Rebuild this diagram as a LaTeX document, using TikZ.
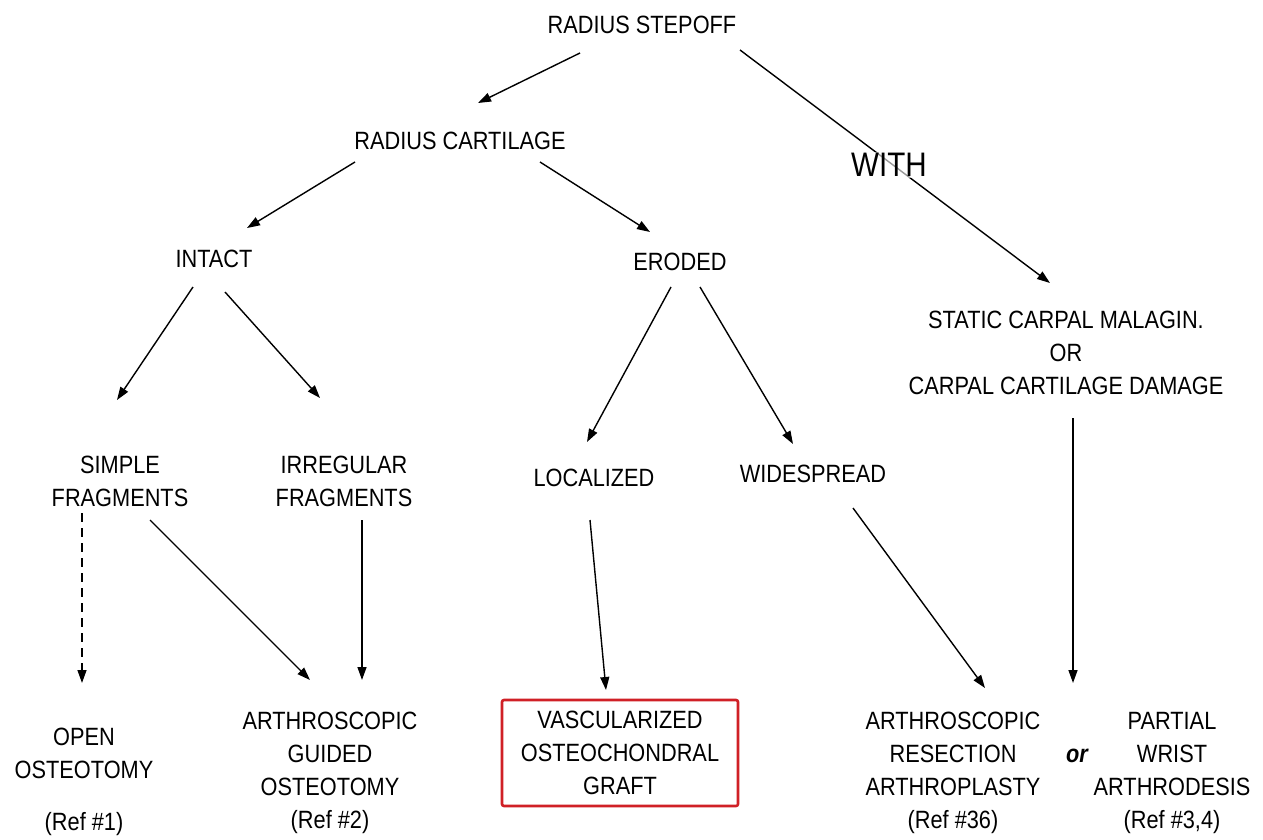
\documentclass[tikz,border=0pt]{standalone}
\usepackage{fontspec}
\setmainfont{Liberation Sans}[FakeStretch=0.87]
\usetikzlibrary{arrows.meta}
\definecolor{boxred}{RGB}{208,32,38}
\begin{document}
\begin{tikzpicture}[x=1pt,y=-1pt,
  every node/.style={align=center,inner sep=0pt,font=\fontsize{25}{33}\selectfont},
  arr/.style={line width=1.4pt,-{Stealth[length=13pt,width=9pt,inset=0pt]}},
  graftbox/.style={draw=boxred,line width=2.6pt,rounded corners=2pt,minimum width=236pt,minimum height=106pt}
  ]
    \useasboundingbox (0,0) rectangle (1263,840);

    \node (stepoff) at (642,25) {RADIUS STEPOFF};
    \node (cartilage) at (460,141) {RADIUS CARTILAGE};
    \node (intact) at (214,259) {INTACT};
    \node (eroded) at (680,262) {ERODED};
    \node (static) at (1066,353) {STATIC CARPAL MALAGIN.\\OR\\CARPAL CARTILAGE DAMAGE};
    \node (simple) at (120,481) {SIMPLE\\FRAGMENTS};
    \node (irregular) at (344,481) {IRREGULAR\\FRAGMENTS};
    \node (localized) at (594,478) {LOCALIZED};
    \node (widespread) at (813,474) {WIDESPREAD};
    \node (open) at (84,782) {OPEN\\OSTEOTOMY\\[19pt](Ref \#1)};
    \node (guided) at (330,773) {ARTHROSCOPIC\\GUIDED\\OSTEOTOMY\\(Ref \#2)};
    \node[graftbox] (graft) at (620,753) {VASCULARIZED\\OSTEOCHONDRAL\\GRAFT};
    \node (resection) at (953,773) {ARTHROSCOPIC\\RESECTION\\ARTHROPLASTY\\(Ref \#36)};
    \node[font=\fontsize{25}{33}\selectfont\bfseries\itshape] (or) at (1077,756) {or};
    \node (wrist) at (1172,773) {PARTIAL\\WRIST\\ARTHRODESIS\\(Ref \#3,4)};

    % first level
    \draw[arr] ([shift={(-62,28)}]stepoff.center) -- ([shift={(18,-38)}]cartilage.center);
    \draw[arr] ([shift={(98,25)}]stepoff.center) -- ([shift={(-16,-70)}]static.center);
    \node[font=\fontsize{34}{40}\selectfont,fill=white,fill opacity=0.6,text opacity=1,inner sep=1pt] (with) at (889,165) {WITH};

    % cartilage
    \draw[arr] ([shift={(-105,21)}]cartilage.center) -- ([shift={(33,-31)}]intact.center);
    \draw[arr] ([shift={(80,21)}]cartilage.center) -- ([shift={(-30,-30)}]eroded.center);
    \draw[arr] ([shift={(-21,28)}]intact.center) -- ([shift={(-3,-81)}]simple.center);
    \draw[arr] ([shift={(11,33)}]intact.center) -- ([shift={(-24,-83)}]irregular.center);
    \draw[arr] ([shift={(-9,25)}]eroded.center) -- ([shift={(-7,-36)}]localized.center);
    \draw[arr] ([shift={(20,25)}]eroded.center) -- ([shift={(-20,-30)}]widespread.center);

    % treatments
    \draw[arr,dash pattern=on 9pt off 6pt] ([shift={(-38,32)}]simple.center) -- ([shift={(-2,-99)}]open.center);
    \draw[arr] ([shift={(30,39)}]simple.center) -- ([shift={(-20,-93)}]guided.center);
    \draw[arr] ([shift={(18,39)}]irregular.center) -- ([shift={(32,-93)}]guided.center);
    \draw[arr] ([shift={(-4,42)}]localized.center) -- ([shift={(-14,-63)}]graft.center);
    \draw[arr] ([shift={(40,34)}]widespread.center) -- ([shift={(32,-85)}]resection.center);
    \draw[arr] ([shift={(7,65)}]static.center) -- ([shift={(-4,-73)}]or.center);
\end{tikzpicture}
\end{document}
